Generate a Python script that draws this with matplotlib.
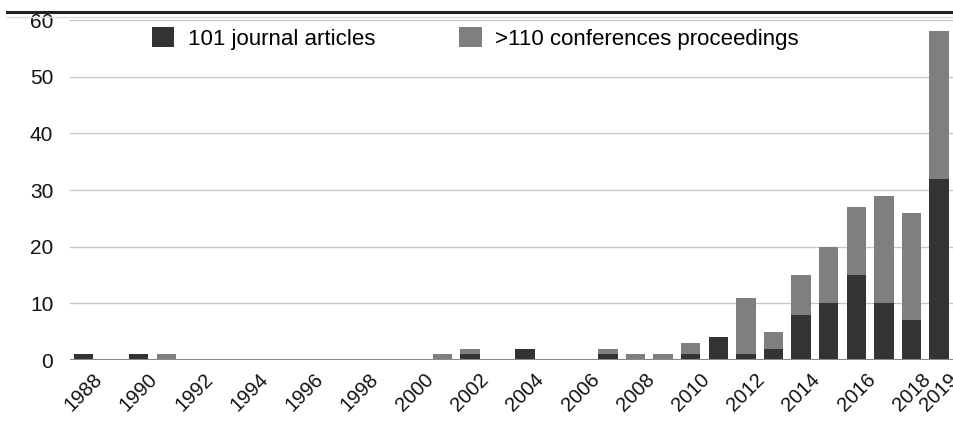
import matplotlib
matplotlib.use("Agg")
import matplotlib.pyplot as plt
import matplotlib.transforms as mtransforms
from matplotlib.lines import Line2D
import numpy as np

plt.rcParams['font.family'] = ['Liberation Sans', 'DejaVu Sans']

years = list(range(1988, 2020))
journal = [1, 0, 1, 0, 0, 0, 0, 0, 0, 0, 0, 0, 0, 0, 1, 0, 2, 0, 0, 1, 0, 0, 1, 4, 1, 2, 8, 10, 15, 10, 7, 32]
conference = [0, 0, 0, 1, 0, 0, 0, 0, 0, 0, 0, 0, 0, 1, 1, 0, 0, 0, 0, 1, 1, 1, 2, 0, 10, 3, 7, 10, 12, 19, 19, 26]
tick_years = [1988, 1990, 1992, 1994, 1996, 1998, 2000, 2002, 2004, 2006, 2008, 2010, 2012, 2014, 2016, 2018, 2019]
labels = ["101 journal articles", ">110 conferences proceedings"]

fig = plt.figure(figsize=(9.54, 4.43), dpi=100)
ax = fig.add_axes([70/954, 1-360/443, 1-70/954, 340/443])

c_j = "#333333"
c_c = "#7f7f7f"
ax.bar(years, journal, width=0.7, color=c_j, label=labels[0], zorder=3)
ax.bar(years, conference, width=0.7, bottom=journal, color=c_c, label=labels[1], zorder=3)

ax.set_xlim(1987.51, 2019.54)
ax.set_ylim(0, 60)
ax.set_yticks(range(0, 61, 10))
ax.yaxis.grid(True, color="#c8c8c8", linewidth=1.0, zorder=0)
ax.axhline(0, color="#888888", linewidth=1.5, zorder=4)
for s in ax.spines.values():
    s.set_visible(False)
ax.tick_params(axis='y', length=0, labelsize=15, colors="#111111", pad=12)
ax.tick_params(axis='x', length=0, labelsize=14.5, colors="#111111")
ax.set_xticks(tick_years)
ax.set_xticklabels([str(y) for y in tick_years], rotation=45, ha='right', va='center',
                   rotation_mode='anchor')
offset = mtransforms.ScaledTranslation(16/100, -12/100, fig.dpi_scale_trans)
for lab in ax.get_xticklabels():
    lab.set_transform(lab.get_transform() + offset)

leg = ax.legend(loc='upper left', ncol=2, frameon=False, fontsize=16, handlelength=1.0, handleheight=1.0,
                columnspacing=3.8, handletextpad=0.6, borderaxespad=0, borderpad=0)
leg.set_bbox_to_anchor((152/954, 1-27/443), transform=fig.transFigure)

fig.add_artist(Line2D([7/954, 1], [1-12/443, 1-12/443], transform=fig.transFigure, color="#222222", linewidth=2.2))
fig.add_artist(Line2D([7/954, 1], [1-17/443, 1-17/443], transform=fig.transFigure, color="#dddddd", linewidth=1))

fig.savefig("out.png", dpi=100)
